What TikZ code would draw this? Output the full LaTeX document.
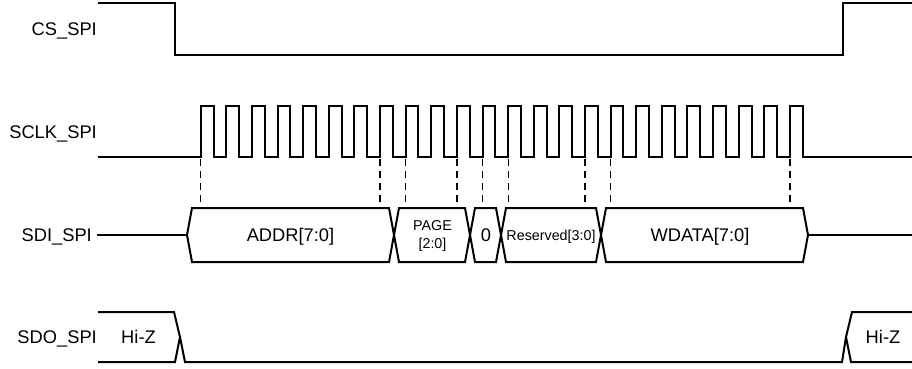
\documentclass[tikz,border=0pt]{standalone}
\usepackage{fontspec}
\setmainfont{Liberation Sans}
\begin{document}
\begin{tikzpicture}[x=1pt,y=-1pt,
  sig/.style={line width=2pt, line join=miter},
  guide/.style={line width=1.2pt, dash pattern=on 7pt off 5pt},
  lbl/.style={font=\fontsize{18.3}{21}\selectfont, inner sep=0pt, text height=13.1pt, text depth=0pt},
  smalllbl/.style={font=\fontsize{14.3}{17.5}\selectfont, inner sep=0pt, align=center}]
\useasboundingbox (0,0) rectangle (912,368);
% labels
\node[lbl, anchor=east] (cs) at (97,29) {CS\_SPI};
\node[lbl, anchor=east] (sclk) at (97,131.5) {SCLK\_SPI};
\node[lbl, anchor=east] (sdi) at (92,235) {SDI\_SPI};
\node[lbl, anchor=east] (sdo) at (97,337) {SDO\_SPI};
% CS
\draw[sig] (98,3) -- (175,3) -- (175,55) -- (843,55) -- (843,3) -- (912,3);
% SCLK
\draw[sig] (98,157) \foreach \k in {0,...,23} {
  -- ({200.7+\k*25.62},157) -- ({200.7+\k*25.62},106)
  -- ({213.5+\k*25.62},106) -- ({213.5+\k*25.62},157) } -- (912,157);
% guides
\foreach \k in {0,7,8,10,11,12,15,16,23}
  \draw[guide] ({200.7+\k*25.62},159) -- ({200.7+\k*25.62},207);
% SDI bus
\draw[sig] (97,235) -- (187,235);
\foreach \a/\b in {187/394, 394/470, 470/501, 501/601, 601/808}
  \draw[sig] (\a,235) -- ({\a+5},208) -- ({\b-5},208) -- (\b,235) -- ({\b-5},262) -- ({\a+5},262) -- cycle;
\draw[sig] (808,235) -- (912,235);
\node[lbl] (addr) at (290.5,235) {ADDR[7:0]};
\node[smalllbl] (page) at (432.5,236) {PAGE\\{}[2:0]};
\node[lbl] (zero) at (486,235) {0};
\node[smalllbl, text height=10.3pt, text depth=0pt] (res) at (551,235) {Reserved[3:0]};
\node[lbl] (wdata) at (700,235) {WDATA[7:0]};
% SDO
\draw[sig] (98,312) -- (174,312) -- (180,337) -- (175,362) -- (98,362);
\draw[sig] (180,337) -- (185,362) -- (842,362) -- (846,337);
\draw[sig] (912,312) -- (852,312) -- (846,337) -- (851,362) -- (912,362);
\node[lbl] (hizl) at (138.5,337) {Hi-Z};
\node[lbl] (hizr) at (883,337) {Hi-Z};
\end{tikzpicture}
\end{document}
